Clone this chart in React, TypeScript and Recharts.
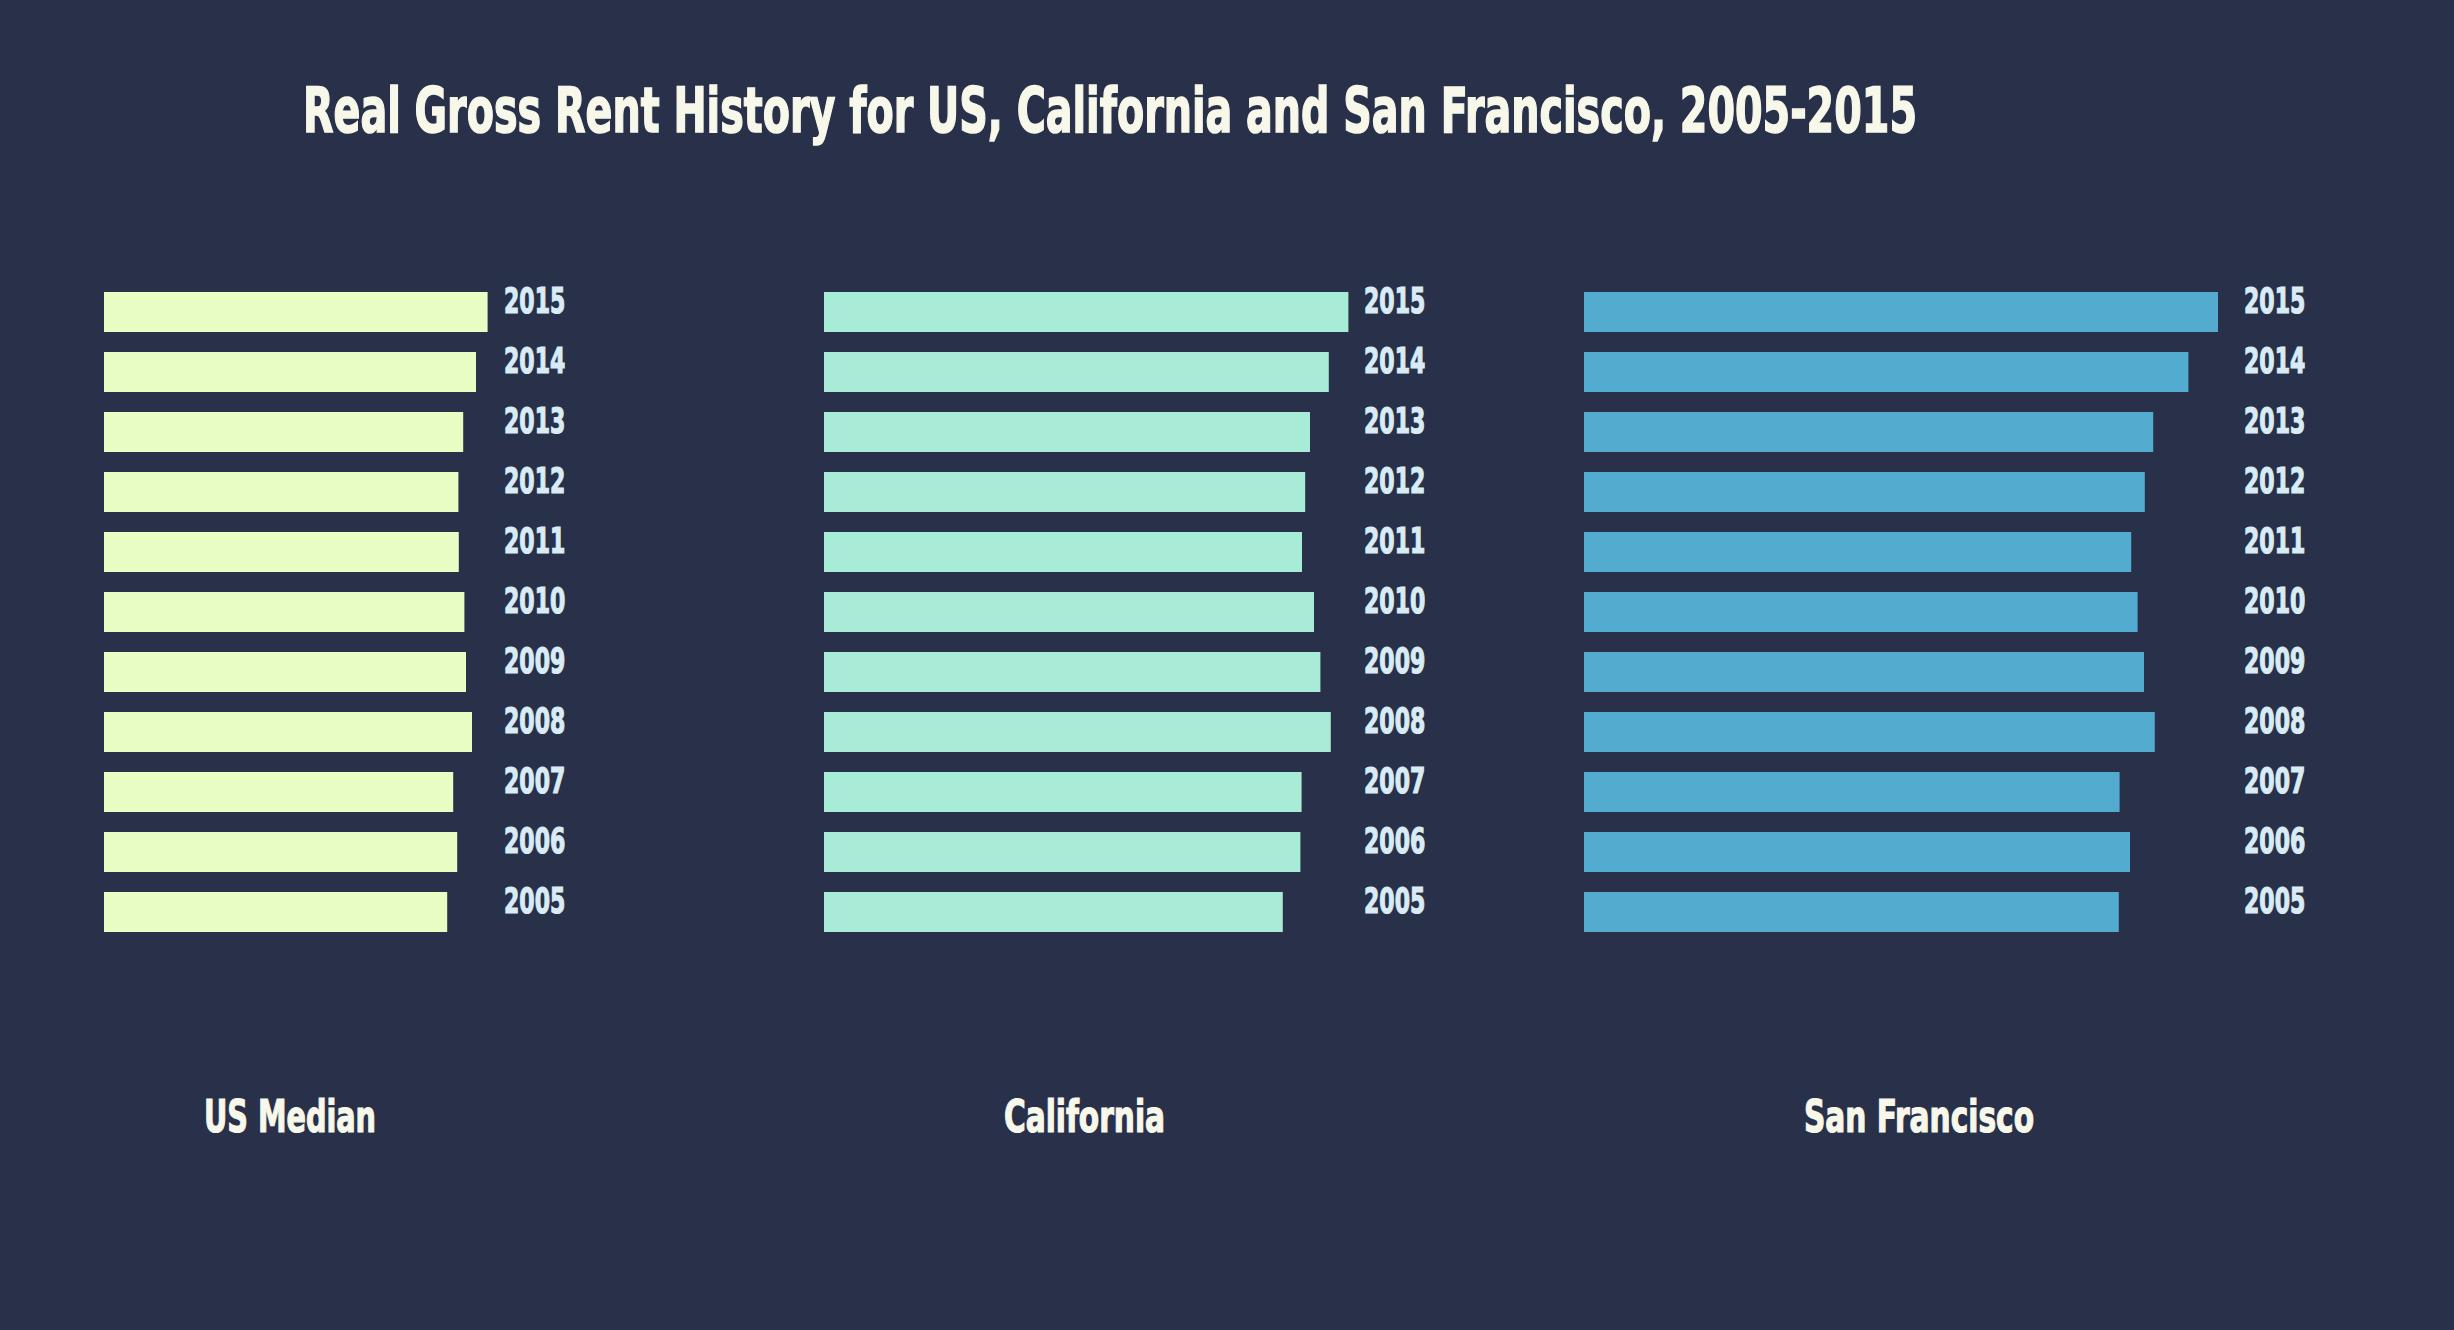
import { BarChart, Bar, XAxis, YAxis } from 'recharts'

// years bottom-to-top; the axis is reversed so 2015 sits on top
const years = ['2005', '2006', '2007', '2008', '2009', '2010', '2011', '2012', '2013', '2014', '2015']

// real gross rent, dollars per month
const usMedian = [858, 883, 873, 920, 905, 901, 887, 886, 898, 930, 959]
const california = [1147, 1191, 1194, 1267, 1241, 1225, 1195, 1203, 1215, 1262, 1311]
const sanFrancisco = [1337, 1365, 1339, 1427, 1400, 1384, 1368, 1402, 1423, 1511, 1585]

const panelNames = ['US Median', 'California', 'San Francisco']
const axisMax = [1000, 1350, 1650]

const BG = '#283149'
const FONT = "'Liberation Sans Narrow', 'DejaVu Sans Condensed', 'Roboto Condensed', sans-serif"

const panels = [
  { values: usMedian, color: '#e8fdc3', left: 104, plotWidth: 400, labelX: 204, labelW: 172 },
  { values: california, color: '#a8ebd7', left: 824, plotWidth: 540, labelX: 1004, labelW: 161 },
  { values: sanFrancisco, color: '#53abcf', left: 1584, plotWidth: 660, labelX: 1804, labelW: 230 },
]

// eslint-disable-next-line @typescript-eslint/no-explicit-any
function YearTick({ x, y, payload }: any) {
  return (
    <text
      transform={`translate(${x},${y + 1}) scale(0.68,1)`}
      textAnchor="start"
      fill="#d9ecf6"
      stroke="#d9ecf6"
      strokeWidth={1.2}
      fontFamily={FONT}
      fontWeight={700}
      fontSize={36}
    >
      {payload.value}
    </text>
  )
}

function Panel({ idx }: { idx: number }) {
  const p = panels[idx]
  const data = years.map((year, i) => ({ year, rent: p.values[i] }))
  return (
    <div style={{ position: 'absolute', left: p.left, top: 282 }}>
      <BarChart
        layout="vertical"
        width={p.plotWidth + 140}
        height={660}
        data={data}
        margin={{ top: 0, right: 0, bottom: 0, left: 0 }}
      >
        <XAxis type="number" domain={[0, axisMax[idx]]} hide />
        <YAxis
          type="category"
          dataKey="year"
          orientation="right"
          reversed
          width={140}
          interval={0}
          axisLine={false}
          tickLine={false}
          tickSize={0}
          tickMargin={0}
          tick={<YearTick />}
        />
        <Bar dataKey="rent" fill={p.color} barSize={40} isAnimationActive={false} />
      </BarChart>
    </div>
  )
}

export default function App() {
  return (
    <div
      style={{
        position: 'absolute',
        left: 0,
        top: 0,
        width: 2454,
        height: 1330,
        background: BG,
        overflow: 'hidden',
      }}
    >
      <svg width={2454} height={1330} style={{ position: 'absolute', left: 0, top: 0 }}>
        <text
          x={303}
          y={132}
          fill="#f7f7ea"
          stroke="#f7f7ea"
          strokeWidth={1.5}
          fontFamily={FONT}
          fontWeight={700}
          fontSize={62}
          textLength={1614}
          lengthAdjust="spacingAndGlyphs"
        >
          Real Gross Rent History for US, California and San Francisco, 2005-2015
        </text>
        {panels.map((p, i) => (
          <text
            key={panelNames[i]}
            x={p.labelX}
            y={1132}
            fill="#f7f7ea"
            stroke="#f7f7ea"
            strokeWidth={1.2}
            fontFamily={FONT}
            fontWeight={700}
            fontSize={44}
            textLength={p.labelW}
            lengthAdjust="spacingAndGlyphs"
          >
            {panelNames[i]}
          </text>
        ))}
      </svg>
      {panels.map((_, i) => (
        <Panel key={i} idx={i} />
      ))}
    </div>
  )
}
